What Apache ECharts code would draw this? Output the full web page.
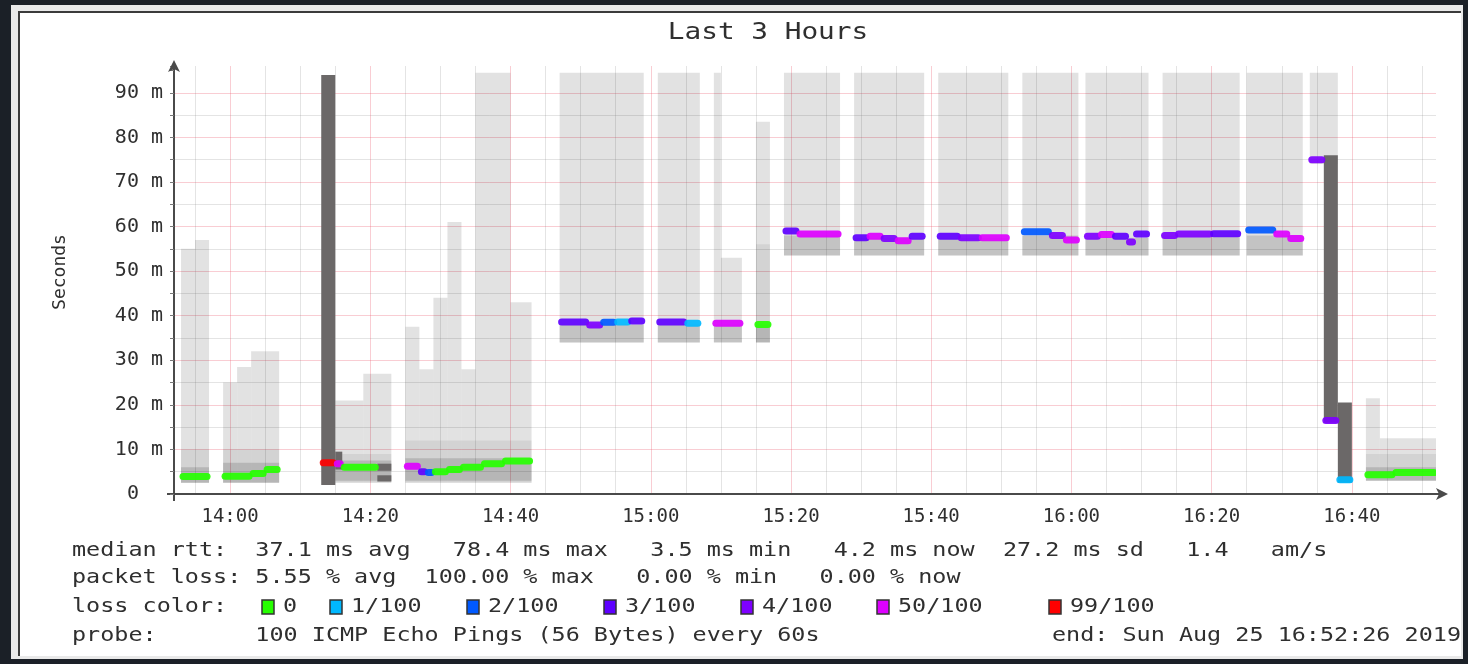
<!DOCTYPE html>
<html>
<head>
<meta charset="utf-8">
<title>Last 3 Hours</title>
<script src="https://cdn.jsdelivr.net/npm/echarts@6/dist/echarts.min.js"></script>
<style>
  html, body { margin: 0; padding: 0; background: #1b2027; }
  #wrap { position: relative; width: 1468px; height: 664px; overflow: hidden; }
  #frame { position: absolute; left: 11px; top: 5px; width: 1452px; height: 654px; background: #e9e9e9; }
  #panel { position: absolute; left: 18px; top: 11px; width: 1443px; height: 645px; background: #ffffff;
           border-left: 2px solid #3b3b3b; border-top: 2px solid #3b3b3b; box-sizing: border-box; }
  #chart { position: absolute; left: 0; top: 0; width: 1468px; height: 664px; }
</style>
</head>
<body>
<div id="wrap">
  <div id="frame"></div>
  <div id="panel"></div>
  <div id="chart"></div>
</div>
<script>
// ---- time axis (one slot per minute) ----
const timeStart = '13:52';
const timeEnd = '16:52';
const xTickLabels = ['14:00', '14:20', '14:40', '15:00', '15:20', '15:40', '16:00', '16:20', '16:40'];
const yMax = 96;

// ---- smoke: [from, to, low ms, high ms] ----
const smokeLight = [
  ['13:53', '13:55', 2.5, 55], ['13:55', '13:57', 2.5, 57],
  ['13:59', '14:01', 2.5, 25], ['14:01', '14:03', 2.5, 28.5], ['14:03', '14:07', 2.5, 32],
  ['14:15', '14:19', 2.5, 21], ['14:19', '14:23', 2.5, 27],
  ['14:25', '14:27', 2.5, 37.5], ['14:27', '14:29', 2.5, 28], ['14:29', '14:31', 2.5, 44],
  ['14:31', '14:33', 2.5, 61], ['14:33', '14:35', 2.5, 28], ['14:35', '14:40', 2.5, 94.5],
  ['14:40', '14:43', 2.5, 43],
  ['14:47', '14:59', 34, 94.5], ['15:01', '15:07', 34, 94.5],
  ['15:09', '15:10', 34, 94.5], ['15:10', '15:13', 34, 53], ['15:15', '15:17', 34, 83.5],
  ['15:19', '15:27', 53.5, 94.5], ['15:29', '15:39', 53.5, 94.5], ['15:41', '15:51', 53.5, 94.5],
  ['15:53', '16:01', 53.5, 94.5], ['16:02', '16:11', 53.5, 94.5], ['16:13', '16:24', 53.5, 94.5],
  ['16:25', '16:33', 53.5, 94.5], ['16:34', '16:38', 74, 94.5],
  ['16:42', '16:44', 3, 21.5], ['16:44', '16:52', 3, 12.5]
];
const smokeMid = [
  ['13:53', '13:57', 2.5, 10], ['13:59', '14:07', 2.5, 10], ['14:15', '14:23', 2.5, 9],
  ['14:25', '14:43', 2.5, 12],
  ['15:15', '15:17', 34, 56],
  ['16:42', '16:52', 3, 9]
];
const smokeCore = [
  ['13:53', '13:57', 2.5, 6], ['13:59', '14:07', 2.5, 7], ['14:15', '14:23', 3, 7.5],
  ['14:25', '14:43', 3, 8],
  ['14:47', '14:59', 34, 38], ['15:01', '15:07', 34, 38], ['15:09', '15:13', 34, 38], ['15:15', '15:17', 34, 38],
  ['15:19', '15:27', 53.5, 58], ['15:29', '15:39', 53.5, 57.5], ['15:41', '15:51', 53.5, 57.5],
  ['15:53', '16:01', 53.5, 58], ['16:02', '16:11', 53.5, 57.5], ['16:13', '16:24', 53.5, 58],
  ['16:25', '16:33', 53.5, 58],
  ['16:42', '16:52', 3, 6]
];
const smokeDark = [
  ['14:13', '14:15', 2, 94], ['14:15', '14:16', 5.5, 9.5],
  ['14:21', '14:23', 5.2, 6.8], ['14:21', '14:23', 2.8, 4.2],
  ['16:36', '16:38', 16, 76], ['16:38', '16:40', 2.5, 20.5]
];

// ---- median rtt: [from, to, ms, loss class] ----
const medianRuns = [
  ['13:53', '13:57', 3.9, 0],
  ['13:59', '14:03', 4.0, 0], ['14:03', '14:05', 4.6, 0], ['14:05', '14:07', 5.5, 0],
  ['14:13', '14:15', 7.0, 6], ['14:15', '14:16', 6.8, 5], ['14:16', '14:21', 6.0, 0],
  ['14:25', '14:27', 6.2, 5], ['14:27', '14:28', 5.0, 3], ['14:28', '14:29', 4.8, 2],
  ['14:29', '14:31', 5.0, 0], ['14:31', '14:33', 5.5, 0], ['14:33', '14:36', 6.0, 0],
  ['14:36', '14:39', 6.8, 0], ['14:39', '14:43', 7.4, 0],
  ['14:47', '14:51', 38.6, 3], ['14:51', '14:53', 37.9, 4], ['14:53', '14:55', 38.5, 2],
  ['14:55', '14:57', 38.6, 1], ['14:57', '14:59', 38.8, 3],
  ['15:01', '15:05', 38.6, 3], ['15:05', '15:07', 38.3, 1],
  ['15:09', '15:13', 38.3, 5],
  ['15:15', '15:17', 38.0, 0],
  ['15:19', '15:21', 59.0, 3], ['15:21', '15:27', 58.3, 5],
  ['15:29', '15:31', 57.5, 3], ['15:31', '15:33', 57.8, 5], ['15:33', '15:35', 57.3, 4],
  ['15:35', '15:37', 56.8, 5], ['15:37', '15:39', 57.8, 3],
  ['15:41', '15:44', 57.8, 3], ['15:44', '15:47', 57.5, 4], ['15:47', '15:51', 57.5, 5],
  ['15:53', '15:57', 58.8, 2], ['15:57', '15:59', 58.0, 4], ['15:59', '16:01', 57.0, 5],
  ['16:02', '16:04', 57.8, 4], ['16:04', '16:06', 58.2, 5], ['16:06', '16:08', 57.8, 3],
  ['16:08', '16:09', 56.5, 4], ['16:09', '16:11', 58.3, 3],
  ['16:13', '16:15', 58.0, 4], ['16:15', '16:20', 58.3, 4], ['16:20', '16:24', 58.4, 3],
  ['16:25', '16:29', 59.2, 2], ['16:29', '16:31', 58.3, 5], ['16:31', '16:33', 57.3, 5],
  ['16:34', '16:36', 75.0, 4], ['16:36', '16:38', 16.5, 4], ['16:38', '16:40', 3.2, 1],
  ['16:42', '16:46', 4.3, 0], ['16:46', '16:52', 4.8, 0]
];

// ---- loss colour classes ----
const lossLabels = ['0', '1/100', '2/100', '3/100', '4/100', '50/100', '99/100'];
const lossColors = ['#26ff00', '#00b8ff', '#0059ff', '#5e00ff', '#7e00ff', '#dd00ff', '#ff0000'];

// ---- text lines under the graph ----
const titleText = 'Last 3 Hours';
const yAxisTitle = 'Seconds';
const statLines = [
  'median rtt:  37.1 ms avg   78.4 ms max   3.5 ms min   4.2 ms now  27.2 ms sd   1.4   am/s',
  'packet loss: 5.55 % avg  100.00 % max   0.00 % min   0.00 % now'
];
const lossTitle = 'loss color:';
const probeLine = 'probe:       100 ICMP Echo Pings (56 Bytes) every 60s';
const endLine = 'end: Sun Aug 25 16:52:26 2019';

// ---- helpers ----
const toMin = t => { const p = t.split(':').map(Number); return p[0] * 60 + p[1]; };
const fmt = m => String(Math.floor(m / 60)).padStart(2, '0') + ':' + String(m % 60).padStart(2, '0');
const minuteCats = [];
for (let m = toMin(timeStart); m <= toMin(timeEnd); m++) minuteCats.push(fmt(m));
const slot = t => toMin(t) - toMin(timeStart);

const MONO = '"DejaVu Sans Mono", "Liberation Mono", monospace';
const TEXT = '#2f2f2f';
const MAJOR = 'rgba(235, 90, 110, 0.30)';
const MINOR = 'rgba(120, 120, 120, 0.20)';

// grid line colours: x every 5 minutes (major on labelled times), y every 5 ms
const xLineColors = minuteCats.filter(c => toMin(c) % 5 === 0)
  .map(c => xTickLabels.includes(c) ? MAJOR : MINOR);
const yLineColors = [];
for (let v = 0; v < 95; v += 5) yLineColors.push(v % 10 === 0 ? MAJOR : MINOR);
yLineColors.push('rgba(0,0,0,0)', 'rgba(0,0,0,0)');

function bandSeries(name, rows, fill, z) {
  return {
    type: 'custom', name, z, silent: true, clip: true,
    encode: { x: [0, 1], y: [2, 3] },
    data: rows.map(r => [slot(r[0]), slot(r[1]), r[2], r[3]]),
    renderItem(params, api) {
      const a = api.coord([api.value(0), api.value(3)]);
      const b = api.coord([api.value(1), api.value(2)]);
      return {
        type: 'rect',
        shape: { x: a[0], y: a[1], width: b[0] - a[0], height: b[1] - a[1] },
        style: { fill }
      };
    }
  };
}

const medianSeries = {
  type: 'custom', name: 'median rtt', z: 6, silent: true, clip: true,
  encode: { x: [0, 1], y: 2 },
  data: medianRuns.map(r => [slot(r[0]), slot(r[1]), r[2], r[3]]),
  renderItem(params, api) {
    const a = api.coord([api.value(0), api.value(2)]);
    const b = api.coord([api.value(1), api.value(2)]);
    return {
      type: 'line',
      shape: { x1: a[0] + 2, y1: a[1], x2: b[0] - 2, y2: b[1] },
      style: { stroke: lossColors[api.value(3)], lineWidth: 7, lineCap: 'round', opacity: 0.92 }
    };
  }
};

// ---- legend / footer texts ----
const ROW_FONT = '19px ' + MONO;
const ROW_SCALE = 1.233;
const rowY = [551, 578, 607, 636];
const legendBoxX = [262, 330, 467, 604, 741, 877, 1049];

const graphics = [
  { type: 'text', x: 768, y: 33, scaleX: ROW_SCALE,
    style: { text: titleText, font: '22.5px ' + MONO, fill: TEXT, align: 'center', verticalAlign: 'middle' } },
  { type: 'text', x: 60, y: 272, rotation: Math.PI / 2,
    style: { text: yAxisTitle, font: '18px ' + MONO, fill: TEXT, align: 'center', verticalAlign: 'middle' } },
  { type: 'text', x: 72, y: rowY[0], scaleX: ROW_SCALE,
    style: { text: statLines[0], font: ROW_FONT, fill: TEXT, verticalAlign: 'middle' } },
  { type: 'text', x: 72, y: rowY[1], scaleX: ROW_SCALE,
    style: { text: statLines[1], font: ROW_FONT, fill: TEXT, verticalAlign: 'middle' } },
  { type: 'text', x: 72, y: rowY[2], scaleX: ROW_SCALE,
    style: { text: lossTitle, font: ROW_FONT, fill: TEXT, verticalAlign: 'middle' } },
  { type: 'text', x: 72, y: rowY[3], scaleX: ROW_SCALE,
    style: { text: probeLine, font: ROW_FONT, fill: TEXT, verticalAlign: 'middle' } },
  { type: 'text', x: 1461, y: rowY[3], scaleX: ROW_SCALE,
    style: { text: endLine, font: ROW_FONT, fill: TEXT, align: 'right', verticalAlign: 'middle' } },
  // axis stubs beyond the plot, as drawn by the grapher
  { type: 'line', shape: { x1: 1436, y1: 494, x2: 1446, y2: 494 }, style: { stroke: '#4a4a4a', lineWidth: 2 } },
  { type: 'line', shape: { x1: 167, y1: 494, x2: 174, y2: 494 }, style: { stroke: '#4a4a4a', lineWidth: 2 } },
  { type: 'line', shape: { x1: 174, y1: 494, x2: 174, y2: 501 }, style: { stroke: '#4a4a4a', lineWidth: 2 } }
];
lossLabels.forEach((lab, i) => {
  graphics.push({ type: 'rect', shape: { x: legendBoxX[i], y: rowY[2] - 7, width: 12, height: 14 },
    style: { fill: lossColors[i], stroke: '#333', lineWidth: 1.5 } });
  graphics.push({ type: 'text', x: legendBoxX[i] + 21, y: rowY[2], scaleX: ROW_SCALE,
    style: { text: lab, font: ROW_FONT, fill: TEXT, verticalAlign: 'middle' } });
});

const chart = echarts.init(document.getElementById('chart'), null, { renderer: 'canvas' });
chart.setOption({
  backgroundColor: 'transparent',
  animation: false,
  grid: { left: 174, top: 494 - Math.round(yMax * 4.46), width: 1262, height: Math.round(yMax * 4.46) },
  xAxis: {
    type: 'category',
    data: minuteCats,
    boundaryGap: false,
    axisLine: { show: true, symbol: ['none', 'arrow'], symbolSize: [9, 12], symbolOffset: [0, 12],
      lineStyle: { color: '#4a4a4a', width: 2 } },
    axisTick: { show: false },
    axisLabel: {
      interval: (i, v) => xTickLabels.includes(v),
      fontFamily: MONO, fontSize: 19, color: TEXT, margin: 14
    },
    splitLine: {
      show: true,
      interval: (i, v) => toMin(v) % 5 === 0,
      lineStyle: { color: xLineColors, width: 1 }
    }
  },
  yAxis: {
    type: 'value',
    min: 0, max: yMax, interval: 5,
    axisLine: { show: true, symbol: ['none', 'arrow'], symbolSize: [9, 12], symbolOffset: [0, 6],
      lineStyle: { color: '#4a4a4a', width: 2 } },
    axisTick: { show: true, length: 4, lineStyle: { color: '#777' } },
    axisLabel: {
      formatter: v => v === 0 ? '0  ' : (v % 10 === 0 && v <= 90 ? v + ' m' : ''),
      fontFamily: MONO, fontSize: 20, color: TEXT, margin: 11
    },
    splitLine: { show: true, lineStyle: { color: yLineColors, width: 1 } }
  },
  series: [
    bandSeries('smoke', smokeLight, 'rgba(0,0,0,0.115)', 2),
    bandSeries('smoke mid', smokeMid, 'rgba(0,0,0,0.07)', 3),
    bandSeries('smoke core', smokeCore, 'rgba(0,0,0,0.14)', 4),
    bandSeries('smoke dense', smokeDark, '#6b6868', 5),
    medianSeries
  ],
  graphic: graphics
});
</script>
</body>
</html>
